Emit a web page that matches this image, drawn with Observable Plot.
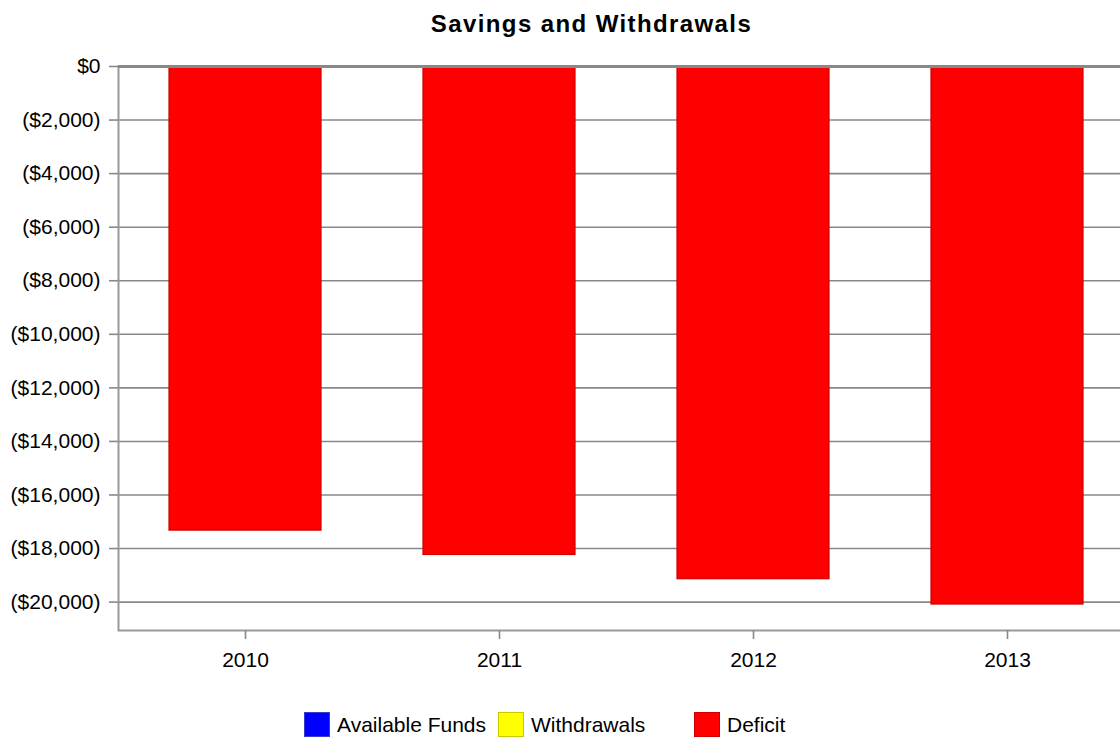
<!DOCTYPE html>
<html>
<head>
<meta charset="utf-8">
<script src="https://cdn.jsdelivr.net/npm/d3@7"></script>
<script src="https://cdn.jsdelivr.net/npm/@observablehq/plot@0.6"></script>
<style>
  html, body { margin: 0; padding: 0; overflow: hidden; background: #fff; }
  #wrap { position: relative; width: 1120px; height: 738px; overflow: hidden; font-family: "Liberation Sans", Arial, sans-serif; color: #000; }
  #title { position: absolute; left: 591.5px; top: 12px; transform: translateX(-50%); font-size: 24px; line-height: 24px; font-weight: bold; letter-spacing: 1.4px; white-space: nowrap; }
  #chart { position: absolute; left: 0; top: 0; width: 1134px; }
  #chart svg { max-width: none !important; }
  .lg-sw { position: absolute; top: 712px; width: 24px; height: 23px; border: 1px solid; }
  .lg-tx { position: absolute; top: 713px; font-size: 21px; line-height: 24px; white-space: nowrap; }
</style>
</head>
<body>
<div id="wrap">
  <div id="title">Savings and Withdrawals</div>
  <div id="chart"></div>
  <div id="legend"></div>
</div>
<script>
const years = ["2010", "2011", "2012", "2013"];
const deficit = [-17330, -18240, -19145, -20090];
const yTicks = [0, -2000, -4000, -6000, -8000, -10000, -12000, -14000, -16000, -18000, -20000];
const legendLabels = ["Available Funds", "Withdrawals", "Deficit"];
const legendFills = ["#0000ff", "#ffff00", "#ff0000"];
const legendStrokes = ["#3a3ad0", "#c8c800", "#cc0000"];
const legendLeft = [304, 498, 694];

const data = years.map((y, i) => ({year: y, value: deficit[i]}));
const fmt = d => d === 0 ? "$0" : `($${d3.format(",")(-d)})`;

const plot = Plot.plot({
  width: 1134,
  height: 690,
  marginLeft: 118,
  marginRight: 0,
  marginTop: 66,
  marginBottom: 60,
  style: {fontFamily: "'Liberation Sans', Arial, sans-serif", fontSize: "21px", color: "#000", background: "transparent", overflow: "visible", maxWidth: "none"},
  x: {type: "band", domain: years, paddingInner: 0.4, paddingOuter: 0.2},
  y: {domain: [-21060, 0]},
  marks: [
    Plot.gridY(yTicks, {stroke: "#888", strokeOpacity: 1, strokeWidth: 1.6}),
    Plot.barY(data, {x: "year", y: "value", fill: "#ff0000", stroke: "#cc0000", strokeWidth: 1.2}),
    Plot.frame({stroke: "#999", strokeWidth: 2}),
    Plot.ruleY([0], {stroke: "#888", strokeWidth: 3}),
    Plot.axisY(yTicks, {tickFormat: fmt, tickSize: 9, tickPadding: 9, stroke: "#888", strokeWidth: 1.6, label: null, fill: "#000"}),
    Plot.axisX({tickSize: 9, tickPadding: 13, stroke: "#888", strokeWidth: 1.6, label: null, fill: "#000"})
  ]
});
document.getElementById("chart").appendChild(plot);

const lg = document.getElementById("legend");
legendLabels.forEach((t, i) => {
  const sw = document.createElement("div");
  sw.className = "lg-sw";
  sw.style.left = legendLeft[i] + "px";
  sw.style.background = legendFills[i];
  sw.style.borderColor = legendStrokes[i];
  lg.appendChild(sw);
  const tx = document.createElement("div");
  tx.className = "lg-tx";
  tx.style.left = (legendLeft[i] + 33) + "px";
  tx.textContent = t;
  lg.appendChild(tx);
});
</script>
</body>
</html>
